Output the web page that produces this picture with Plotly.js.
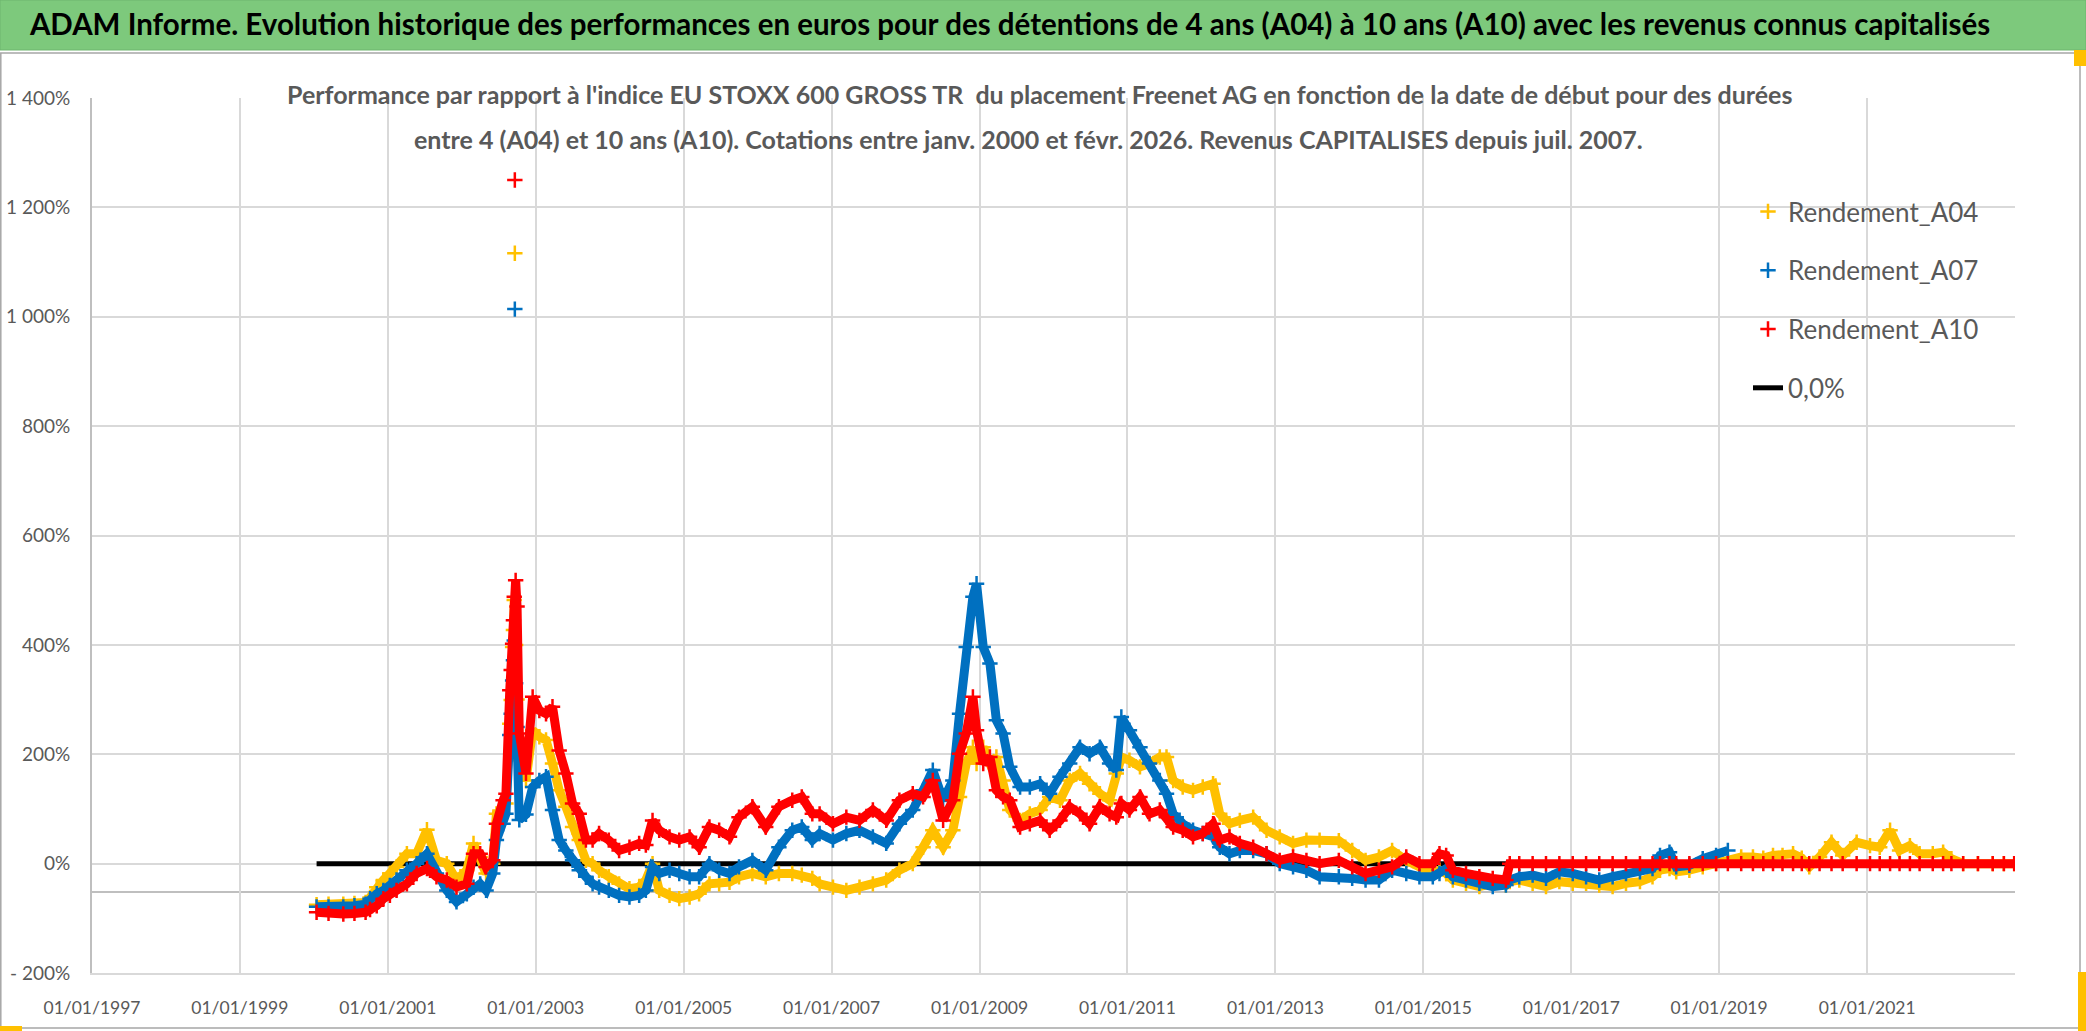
<!DOCTYPE html>
<html>
<head>
<meta charset="utf-8">
<script src="https://cdn.plot.ly/plotly-3.0.1.min.js"></script>
<style>html,body{margin:0;padding:0;background:#fff;}#chart{width:2086px;height:1031px;}</style>
</head>
<body>
<div id="chart"></div>
<script>
// ---- Data (start date as decimal year, performance in %) ----
const years = [
2000.04,2000.2,2000.4,2000.55,2000.7,2000.76,2000.85,2000.94,2001.03,2001.12,
2001.26,2001.39,2001.53,2001.66,2001.8,2001.93,2002.07,2002.16,2002.25,2002.33,
2002.42,2002.47,2002.56,2002.6,2002.65,2002.67,2002.69,2002.7,2002.71,2002.72,
2002.73,2002.75,2002.78,2002.87,2002.96,2003.05,2003.14,2003.23,2003.32,2003.41,
2003.5,2003.59,2003.68,2003.77,2003.86,2003.99,2004.13,2004.27,2004.4,2004.49,
2004.58,2004.67,2004.81,2004.94,2005.08,2005.21,2005.35,2005.48,2005.62,2005.75,
2005.93,2006.11,2006.29,2006.47,2006.6,2006.74,2006.84,2007.02,2007.2,2007.38,
2007.56,2007.74,2007.92,2008.1,2008.24,2008.37,2008.51,2008.64,2008.73,2008.82,
2008.91,2008.96,2009.05,2009.14,2009.23,2009.32,2009.41,2009.55,2009.68,2009.82,
2009.95,2010.09,2010.22,2010.36,2010.49,2010.63,2010.76,2010.85,2010.92,2011.03,
2011.17,2011.3,2011.44,2011.53,2011.62,2011.75,2011.89,2012.02,2012.16,2012.25,
2012.38,2012.52,2012.7,2012.88,2013.06,2013.24,2013.42,2013.6,2013.86,2014.04,
2014.22,2014.4,2014.58,2014.77,2014.95,2015.13,2015.22,2015.31,2015.4,2015.58,
2015.76,2015.94,2016.12,2016.17,2016.3,2016.48,2016.66,2016.84,2017.02,2017.2,
2017.38,2017.56,2017.74,2017.93,2018.1,2018.2,2018.33,2018.42,2018.6,2018.78,
2018.96,2019.12,2019.3,2019.46,2019.6,2019.73,2019.86,2020.0,2020.12,2020.22,
2020.36,2020.52,2020.67,2020.86,2021.04,2021.17,2021.31,2021.44,2021.58,2021.71,
2021.89,2022.03,2022.14,2022.3,2022.5,2022.7,2022.85,2022.99
];
const rendementA04 = [
-75,-74,-74,-73,-71,-62,-43,-30,-18,-6,
18,18,62,6,0,-30,-12,37,12,-18,
0,91,91,110,256,299,396,427,482,1116,
400,300,189,152,244,232,226,183,134,104,
67,43,6,0,-12,-24,-37,-46,-43,-30,
0,-49,-58,-64,-61,-55,-37,-37,-34,-24,
-18,-24,-18,-18,-21,-27,-37,-43,-49,-43,
-37,-30,-12,0,30,61,30,61,122,183,
213,183,213,183,195,152,98,79,91,98,
122,116,152,165,146,128,116,165,195,189,
177,183,195,195,152,140,134,140,146,91,
73,79,85,61,49,37,43,43,42,24,
6,12,24,6,-6,-18,-12,-18,-30,-36,
-42,-36,-39,-33,-30,-36,-42,-33,-36,-36,
-39,-42,-36,-33,-24,-12,-9,-15,-12,-6,
0,9,12,12,10,15,15,18,10,-6,
12,39,15,39,33,30,61,24,33,18,
18,21,9,0,0,0,0,0
];
const rendementA07 = [
-79,-79,-79,-77,-74,-64,-55,-49,-40,-30,
-12,0,18,-18,-49,-70,-55,-43,-37,-49,
-18,43,73,91,235,274,335,372,408,1014,
330,250,80,90,140,152,159,98,43,24,
6,-12,-24,-37,-43,-49,-58,-61,-58,-49,
-6,-18,-12,-18,-24,-24,0,-12,-18,-6,
6,-12,30,61,67,43,55,43,55,61,
49,37,73,98,134,171,116,152,274,396,
488,512,396,366,262,238,177,140,140,146,
128,159,183,213,201,213,183,171,268,244,
213,183,152,128,91,73,61,55,49,30,
18,24,24,18,0,-6,-12,-24,-24,-27,
-30,-30,-12,-18,-24,-24,-18,-9,-24,-30,
-36,-42,-39,-30,-24,-21,-27,-15,-18,-24,
-30,-24,-18,-15,-9,15,21,-6,-3,9,
15,24,null,null,null,null,null,null,null,null,
null,null,null,null,null,null,null,null,null,null,
null,null,null,null,null,null,null,null
];
const rendementA10 = [
-89,-91,-92,-91,-89,-84,-77,-64,-58,-49,
-37,-18,-9,-24,-30,-43,-37,18,18,-6,
6,73,116,128,317,354,402,445,488,1250,
518,470,238,165,305,280,274,287,207,165,
110,91,43,43,55,43,24,30,37,34,
79,61,49,43,49,30,67,61,49,85,
104,67,104,116,122,91,91,73,85,79,
98,79,116,128,122,152,79,116,201,238,
305,244,183,195,134,122,116,67,73,79,
61,79,104,91,73,104,91,85,110,98,
122,91,98,85,67,61,49,55,73,43,
49,37,30,18,6,12,6,0,6,-6,
-18,-12,-6,12,0,0,18,15,-12,-18,
-24,-27,-30,0,0,0,0,0,0,0,
0,0,0,0,0,0,0,0,0,0,
0,0,0,0,0,0,0,0,0,0,
0,0,0,0,0,0,0,0,0,0,
0,0,0,0,0,0,0,0
];
const zeroDates = ['2000-01-15', '2022-12-31'];
const zeroValues = [0, 0];

const seriesNames = ['Rendement_A04', 'Rendement_A07', 'Rendement_A10'];
const seriesColors = ['#FFC000', '#0070C0', '#FF0000'];
const xTickDates = ['1997-01-01','1999-01-01','2001-01-01','2003-01-01','2005-01-01','2007-01-01','2009-01-01','2011-01-01','2013-01-01','2015-01-01','2017-01-01','2019-01-01','2021-01-01'];
const xTickLabels = ['01/01/1997','01/01/1999','01/01/2001','01/01/2003','01/01/2005','01/01/2007','01/01/2009','01/01/2011','01/01/2013','01/01/2015','01/01/2017','01/01/2019','01/01/2021'];
const yTickValues = [-200,0,200,400,600,800,1000,1200,1400];
const yTickLabels = ['- 200%','0%','200%','400%','600%','800%','1 000%','1 200%','1 400%'];

// ---- Build ----
function toDate(y) {
  const Y = Math.floor(y);
  const s = Date.UTC(Y, 0, 1), e = Date.UTC(Y + 1, 0, 1);
  return new Date(s + (y - Y) * (e - s)).toISOString().slice(0, 10);
}
const dates = years.map(toDate);
const allSeries = [rendementA04, rendementA07, rendementA10];
const FONT = 'Lato, "Open Sans", sans-serif';

const traces = [{
  x: zeroDates, y: zeroValues, mode: 'lines', name: '0,0%',
  line: {color: '#000000', width: 5}, legendgroup: 'z', legendrank: 4, hoverinfo: 'skip'
}];
allSeries.forEach((vals, i) => {
  traces.push({
    x: dates, y: vals.map(v => (v !== null && v > 900) ? null : v),
    mode: 'lines', connectgaps: true, showlegend: false, legendgroup: 'g' + i,
    line: {color: seriesColors[i], width: 9}, hoverinfo: 'skip'
  });
  traces.push({
    x: dates, y: vals, mode: 'markers', name: seriesNames[i], legendgroup: 'g' + i, legendrank: i + 1,
    marker: {symbol: 'cross-thin-open', size: 11, color: seriesColors[i], line: {color: seriesColors[i], width: 2.5}}
  });
});

const W = 2086, H = 1031, L = 92, R = 71, T = 98, B = 58;
const pw = W - L - R, ph = H - T - B;
const px = x => (x - L) / pw;           // pixel -> paper x
const py = y => (H - B - y) / ph;       // pixel -> paper y

const layout = {
  width: W, height: H,
  margin: {l: L, r: R, t: T, b: B},
  paper_bgcolor: '#ffffff', plot_bgcolor: '#ffffff',
  showlegend: true,
  title: {
    text: 'ADAM Informe. Evolution historique des performances en euros pour des détentions de 4 ans (A04) à 10 ans (A10) avec les revenus connus capitalisés',
    xref: 'container', yref: 'container', x: 1010 / W, xanchor: 'center', y: 1 - 25 / H, yanchor: 'middle',
    font: {family: FONT, size: 29.5, color: '#000000', weight: 'bold'}
  },
  xaxis: {
    type: 'date', range: ['1997-01-01', '2023-01-01'],
    tickvals: xTickDates, ticktext: xTickLabels,
    showgrid: true, gridcolor: '#D9D9D9', gridwidth: 1.5,
    showline: true, linecolor: '#D9D9D9', linewidth: 2,
    zeroline: false, ticks: '', ticklabelstandoff: 18,
    tickfont: {family: FONT, size: 17.5, color: '#595959'}
  },
  yaxis: {
    range: [-200, 1400], tickvals: yTickValues, ticktext: yTickLabels,
    showgrid: true, gridcolor: '#D9D9D9', gridwidth: 1.5,
    showline: true, linecolor: '#BFBFBF', linewidth: 2,
    zeroline: false, ticks: '', ticklabelstandoff: 16,
    tickfont: {family: FONT, size: 19, color: '#595959'}
  },
  legend: {
    x: px(1748), y: py(188), xanchor: 'left', yanchor: 'top',
    bgcolor: 'rgba(0,0,0,0)', traceorder: 'grouped', tracegroupgap: 22,
    font: {family: FONT, size: 26, color: '#595959'}, itemwidth: 30
  },
  shapes: [
    {type: 'rect', xref: 'paper', yref: 'paper', x0: px(0), x1: px(W), y0: py(50), y1: py(0),
     fillcolor: '#7DC97C', line: {color: '#6FB56E', width: 1}, layer: 'above'},
    {type: 'rect', xref: 'paper', yref: 'paper', x0: px(0.8), x1: px(2080), y0: py(1028), y1: py(53),
     fillcolor: 'rgba(0,0,0,0)', line: {color: '#A6A6A6', width: 1.5}, layer: 'above'},
    {type: 'rect', xref: 'paper', yref: 'paper', x0: px(277), x1: px(1800), y0: py(158), y1: py(90),
     fillcolor: '#ffffff', line: {width: 0}, layer: 'between'},
    {type: 'rect', xref: 'paper', yref: 'paper', x0: px(1702), x1: px(2016), y0: py(423), y1: py(180),
     fillcolor: '#ffffff', line: {width: 0}, layer: 'between'},
    {type: 'line', xref: 'paper', yref: 'y', x0: 0, x1: 1, y0: -52, y1: -52,
     line: {color: '#BFBFBF', width: 2}, layer: 'between'},
    {type: 'rect', xref: 'paper', yref: 'paper', x0: px(0), x1: px(22), y0: py(1031), y1: py(1026),
     fillcolor: '#FFC000', line: {width: 0}, layer: 'above'},
    {type: 'rect', xref: 'paper', yref: 'paper', x0: px(2078), x1: px(2086), y0: py(1031), y1: py(972),
     fillcolor: '#FFC000', line: {width: 0}, layer: 'above'},
    {type: 'rect', xref: 'paper', yref: 'paper', x0: px(2074), x1: px(2086), y0: py(66), y1: py(50),
     fillcolor: '#FFC000', line: {width: 0}, layer: 'above'}
  ],
  annotations: [
    {xref: 'paper', yref: 'paper', x: px(1039), y: py(94), xanchor: 'center', yanchor: 'middle', showarrow: false,
     text: 'Performance par rapport à l\'indice EU STOXX 600 GROSS TR  du placement Freenet AG en fonction de la date de début pour des durées',
     font: {family: FONT, size: 25, color: '#595959', weight: 'bold'}},
    {xref: 'paper', yref: 'paper', x: px(1028), y: py(139), xanchor: 'center', yanchor: 'middle', showarrow: false,
     text: 'entre 4 (A04) et 10 ans (A10). Cotations entre janv. 2000 et févr. 2026. Revenus CAPITALISES depuis juil. 2007.',
     font: {family: FONT, size: 25, color: '#595959', weight: 'bold'}}
  ]
};

Plotly.newPlot('chart', traces, layout, {displayModeBar: false, responsive: false});
</script>
</body>
</html>
